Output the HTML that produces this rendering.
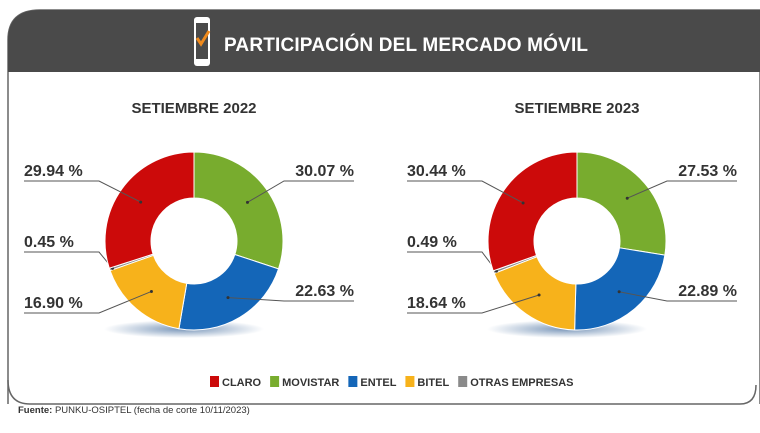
<!DOCTYPE html>
<html><head><meta charset="utf-8"><style>
body{margin:0;background:#fff;width:760px;height:428px;overflow:hidden;font-family:"Liberation Sans",sans-serif}
</style></head><body>
<svg id="c" width="760" height="428" viewBox="0 0 760 428" xmlns="http://www.w3.org/2000/svg">
<defs>
<radialGradient id="sh" cx="50%" cy="50%" r="50%"><stop offset="0" stop-color="#1e4f8a" stop-opacity="0.6"/><stop offset="1" stop-color="#1e4f8a" stop-opacity="0"/></radialGradient>
</defs>
<path d="M8,404 L8,40 Q8,10 40,10 L760,10 L760,404" fill="none" stroke="#666" stroke-width="1.5"/>
<path d="M8,72 L8,40 Q8,10 40,10 L760,10 L760,72 Z" fill="#4a4a4a"/>
<path d="M8,380 Q8,404 30,404 L740,404 Q756,404 756,385" fill="none" stroke="#666" stroke-width="1.5"/>
<g>
<rect x="194" y="17" width="16" height="49" rx="3" fill="#fff"/>
<rect x="196" y="23" width="12" height="36" fill="#4a4a4a"/>
<path d="M197,38 L201,44 L209,31" fill="none" stroke="#f08a1c" stroke-width="3"/>
</g>
<text x="224" y="51" fill="#fff" font-size="19" font-weight="bold" textLength="364">PARTICIPACIÓN DEL MERCADO MÓVIL</text>
<text x="194" y="113" text-anchor="middle" font-size="15" font-weight="bold" fill="#333">SETIEMBRE 2022</text>
<text x="577" y="113" text-anchor="middle" font-size="15" font-weight="bold" fill="#333">SETIEMBRE 2023</text>
<g id="donuts"></g>
<g id="legend"></g>
<text x="18" y="413" font-size="9.5" fill="#333"><tspan font-weight="bold">Fuente:</tspan> PUNKU-OSIPTEL (fecha de corte 10/11/2023)</text>
</svg>
<script>
const companies=["MOVISTAR","ENTEL","BITEL","OTRAS EMPRESAS","CLARO"];
const colors=["#78ac2e","#1466b8","#f7b21b","#8a8a8a","#cc0a0a"];
const values2022=[30.07,22.63,16.90,0.45,29.94];
const values2023=[27.53,22.89,18.64,0.49,30.44];
const legendOrder=["CLARO","MOVISTAR","ENTEL","BITEL","OTRAS EMPRESAS"];
const NS="http://www.w3.org/2000/svg";
const g=document.getElementById('donuts');
function mk(t,a,p){const e=document.createElementNS(NS,t);for(const k in a)e.setAttribute(k,a[k]);(p||g).appendChild(e);return e;}
function pt(cx,cy,r,a){return [cx+r*Math.sin(a),cy-r*Math.cos(a)];}
function donut(cx,cy,vals,key){
  const R=89,r=43,tot=vals.reduce((a,b)=>a+b,0);
  const s=mk('ellipse',{cx:cx-10,cy:cy+88,rx:80,ry:9,fill:'url(#sh)'});
  
  
  let a0=0;
  vals.forEach((v,i)=>{
    const a1=a0+v/tot*2*Math.PI;
    const [x0,y0]=pt(cx,cy,R,a0),[x1,y1]=pt(cx,cy,R,a1),[x2,y2]=pt(cx,cy,r,a1),[x3,y3]=pt(cx,cy,r,a0);
    const lg=(a1-a0)>Math.PI?1:0;
    const p=mk('path',{d:`M${x0},${y0}A${R},${R} 0 ${lg} 1 ${x1},${y1}L${x2},${y2}A${r},${r} 0 ${lg} 0 ${x3},${y3}Z`,fill:colors[i],stroke:'#fff','stroke-width':1});
    
    
    const am=(a0+a1)/2,[mx,my]=pt(cx,cy,(R+r)/2+ (v<2?20:0),am);
    const right=Math.sin(am)>0;
    let ly;
    if(v<2) ly=cy+11; else if(Math.cos(am)>0) ly=cy-60; else ly=right?cy+60:cy+72;
    const lx=right?cx+160:cx-170;
    const ex=right?cx+90:cx-95;
    mk('polyline',{points:`${mx},${my} ${ex},${ly} ${lx},${ly}`,fill:'none',stroke:'#555','stroke-width':1});
    mk('circle',{cx:mx,cy:my,r:1.5,fill:'#333'});
    const t=mk('text',{x:right?cx+160:cx-170,y:ly-5,'text-anchor':right?'end':'start','font-size':16,'font-weight':'bold',fill:'#333'});
    t.textContent=v.toFixed(2)+' %';
    
    
    a0=a1;
  });
}
donut(194,241,values2022,'2022');
donut(577,241,values2023,'2023');
const lgd=document.getElementById('legend');
let x=210;
legendOrder.forEach(n=>{
  const i=companies.indexOf(n);
  const gr=mk('g',{},lgd);
  
  
  mk('rect',{x:x,y:376,width:9,height:11,fill:colors[i]},gr);
  const t=mk('text',{x:x+12,y:386,'font-size':11,'font-weight':'bold',fill:'#333'},gr);
  t.textContent=n;
  x+=12+t.getComputedTextLength()+9;
});
</script>
</body></html>
